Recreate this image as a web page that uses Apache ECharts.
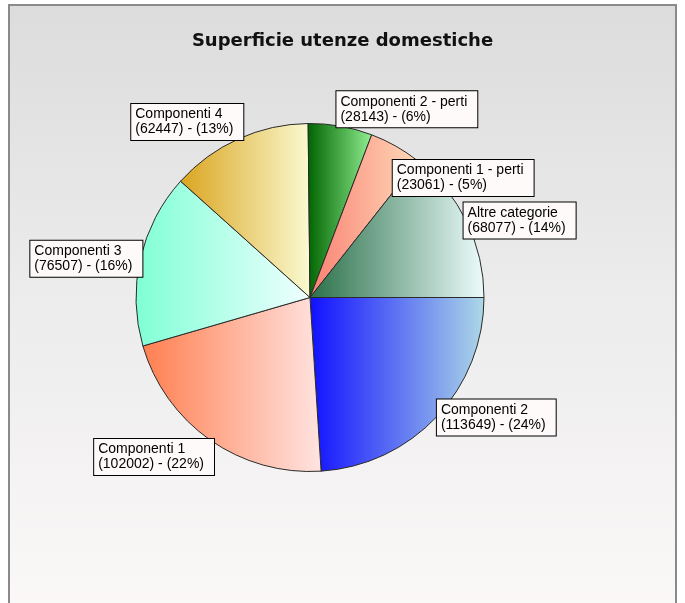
<!DOCTYPE html>
<html>
<head>
<meta charset="utf-8">
<script src="https://cdn.jsdelivr.net/npm/echarts@6/dist/echarts.min.js"></script>
<style>
html,body{margin:0;padding:0;background:#ffffff;}
#chart{width:685px;height:603px;}
</style>
</head>
<body>
<div id="chart"></div>
<script>
// ---- data ----
var categories = ['Componenti 2', 'Componenti 1', 'Componenti 3', 'Componenti 4', 'Componenti 2 - perti', 'Componenti 1 - perti', 'Altre categorie'];
var values = [113649, 102002, 76507, 62447, 28143, 23061, 68077];
var percents = [24, 22, 16, 13, 6, 5, 14];
var titleText = 'Superficie utenze domestiche';

// ---- style ----
var gradFrom = ['#1010ff', '#ff7f50', '#7fffd4', '#daa520', '#006400', '#fa8072', '#2b7049'];
var gradTo   = ['#add8e6', '#ffe4e1', '#f0ffff', '#fafad2', '#90ee90', '#ffdab9', '#ecfcfc'];
var labelShift = [[0, 1], [6, 17], [4, 0], [7, -17], [-4, -17], [-3, 32], [-3, -1]];

var chart = echarts.init(document.getElementById('chart'), null, {renderer: 'canvas'});

var seriesData = categories.map(function (name, i) {
  return {
    name: name,
    value: values[i],
    itemStyle: {
      color: new echarts.graphic.LinearGradient(0, 0, 1, 0, [
        {offset: 0, color: gradFrom[i]},
        {offset: 1, color: gradTo[i]}
      ])
    }
  };
});

var CX = 310;

chart.setOption({
  animation: false,
  title: {
    text: titleText,
    left: 'center',
    top: 27,
    textStyle: {fontFamily: 'DejaVu Sans', fontWeight: 'bold', fontSize: 18, color: '#111111'}
  },
  graphic: [{
    type: 'rect',
    z: -10,
    silent: true,
    shape: {x: 9, y: 5, width: 667, height: 640},
    style: {
      fill: new echarts.graphic.LinearGradient(0, 0, 0, 1, [
        {offset: 0, color: '#dcdcdc'},
        {offset: 0.45, color: '#ececec'},
        {offset: 0.75, color: '#f5f3f3'},
        {offset: 1, color: '#fdf9f9'}
      ]),
      stroke: '#8a8a8a',
      lineWidth: 2
    }
  }],
  series: [{
    type: 'pie',
    z: 2,
    center: [CX, 297.5],
    radius: [0, 174],
    startAngle: 0,
    clockwise: true,
    avoidLabelOverlap: false,
    itemStyle: {borderColor: '#2a2a2a', borderWidth: 1},
    emphasis: {disabled: true},
    label: {
      show: true,
      position: 'outside',
      distanceToLabelLine: 0,
      formatter: function (p) {
        return p.name + '\n(' + values[p.dataIndex] + ') - (' + percents[p.dataIndex] + '%)';
      },
      fontFamily: 'Liberation Sans',
      fontSize: 14,
      lineHeight: 15,
      color: '#000000',
      backgroundColor: '#fffafa',
      borderColor: '#000000',
      borderWidth: 1,
      padding: [3, 10, 3, 4]
    },
    labelLine: {show: false, length: 0, length2: 0},
    labelLayout: function (params) {
      var s = labelShift[params.dataIndex];
      var r = params.labelRect;
      var leftSide = (r.x + r.width / 2) < CX;
      if (leftSide) {
        return {align: 'left', dx: s[0] - r.width, dy: s[1]};
      }
      return {dx: s[0], dy: s[1]};
    },
    data: seriesData
  }]
});
</script>
</body>
</html>
